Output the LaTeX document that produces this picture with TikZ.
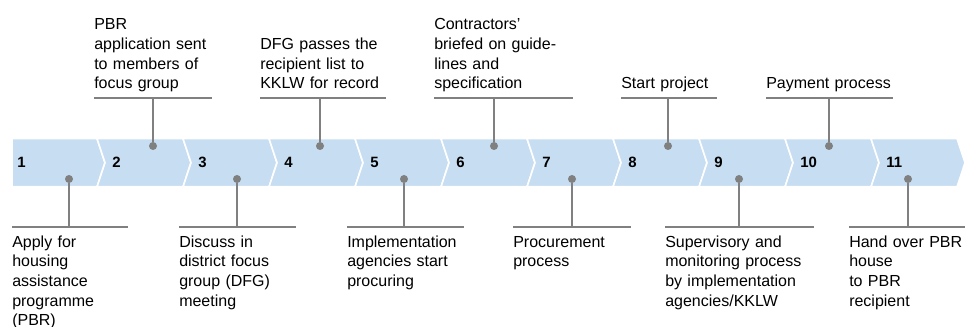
\documentclass[tikz,border=0pt]{standalone}
\usepackage{fontspec}
\setmainfont{Liberation Sans}
\definecolor{bandblue}{RGB}{198,221,242}
\definecolor{linegray}{RGB}{128,128,128}
\newcommand{\lblfont}{\fontsize{12pt}{14.7pt}\selectfont}
\newcommand{\numfont}{\fontsize{11.2pt}{13pt}\selectfont\bfseries}
\tikzstyle{chevron} = [fill=bandblue, draw=white, line width=1.2pt]
\tikzstyle{stepnum} = [anchor=west, inner sep=0pt, font=\numfont]
\tikzstyle{dotnode} = [circle, fill=linegray, inner sep=0pt, minimum size=6pt]
\tikzstyle{toplabel} = [anchor=south west, inner xsep=0pt, inner ysep=2.3pt, align=left, font=\lblfont, execute at begin node=\strut, execute at end node=\strut]
\tikzstyle{botlabel} = [anchor=north west, inner xsep=0pt, inner ysep=4.7pt, align=left, font=\lblfont, execute at begin node=\strut, execute at end node=\strut]
\tikzstyle{labelline} = [draw=linegray, line width=1.6pt]
\tikzstyle{stemline} = [draw=linegray, line width=1.5pt]

\begin{document}
\begin{tikzpicture}[x=0.75pt, y=-0.75pt]
        \useasboundingbox (0,0) rectangle (965,327);
        \foreach \a/\b/\d/\n in {12/97/0/1, 97/183/8/2, 183/269/8/3, 269/355/8/4, 355/441/8/5, 441/527/8/6, 527/613/8/7, 613/699/8/8, 699/785/8/9, 785/871/8/10, 871/957/8/11} {
            \draw [chevron] (\a,138.7) -- (\b,138.7) -- ({\b+8},162.75) -- (\b,186.8) -- (\a,186.8) -- ({\a+\d},162.75) -- cycle;
            \node (n\n) [stepnum] at ({\a+\d*1.25+5},162.75) {\n};
        }
        \node (l1) [botlabel, text width=86.25pt] at (12,227) {Apply for\\housing\\assistance\\programme\\(PBR)};
        \node (l2) [toplabel, text width=87.75pt] at (94,98) {PBR\\application sent\\to members of\\focus group};
        \node (l3) [botlabel, text width=87pt] at (179,227) {Discuss in\\district focus\\group (DFG)\\meeting};
        \node (l4) [toplabel, text width=93.75pt] at (260,98) {DFG passes the\\recipient list to\\KKLW for record};
        \node (l5) [botlabel, text width=87pt] at (347,227) {Implementation\\agencies start\\procuring};
        \node (l6) [toplabel, text width=103.5pt] at (434,98) {Contractors’\\briefed on guide-\\lines and\\specification};
        \node (l7) [botlabel, text width=87.75pt] at (513,227) {Procurement\\process};
        \node (l8) [toplabel, text width=71.25pt] at (621,98) {Start project};
        \node (l9) [botlabel, text width=111pt] at (665,227) {Supervisory and\\monitoring process\\by implementation\\agencies/KKLW};
        \node (l10) [toplabel, text width=94.5pt] at (766,98) {Payment process};
        \node (l11) [botlabel, text width=87pt] at (849,227) {Hand over PBR\\house\\to PBR\\recipient};
        \node (d1) [dotnode] at (69,179) {};
        \node (d2) [dotnode] at (153,146) {};
        \node (d3) [dotnode] at (237,179) {};
        \node (d4) [dotnode] at (320,146) {};
        \node (d5) [dotnode] at (404,179) {};
        \node (d6) [dotnode] at (494,146) {};
        \node (d7) [dotnode] at (572,179) {};
        \node (d8) [dotnode] at (668,146) {};
        \node (d9) [dotnode] at (739,179) {};
        \node (d10) [dotnode] at (829,146) {};
        \node (d11) [dotnode] at (908,179) {};
        \foreach \i in {1,3,5,7,9,11} {
            \draw [labelline] (l\i.north west) -- (l\i.north east);
            \draw [stemline] (d\i) -- (d\i |- l\i.north);
        }
        \foreach \i in {2,4,6,8,10} {
            \draw [labelline] (l\i.south west) -- (l\i.south east);
            \draw [stemline] (d\i) -- (d\i |- l\i.south);
        }
\end{tikzpicture}
\end{document}
